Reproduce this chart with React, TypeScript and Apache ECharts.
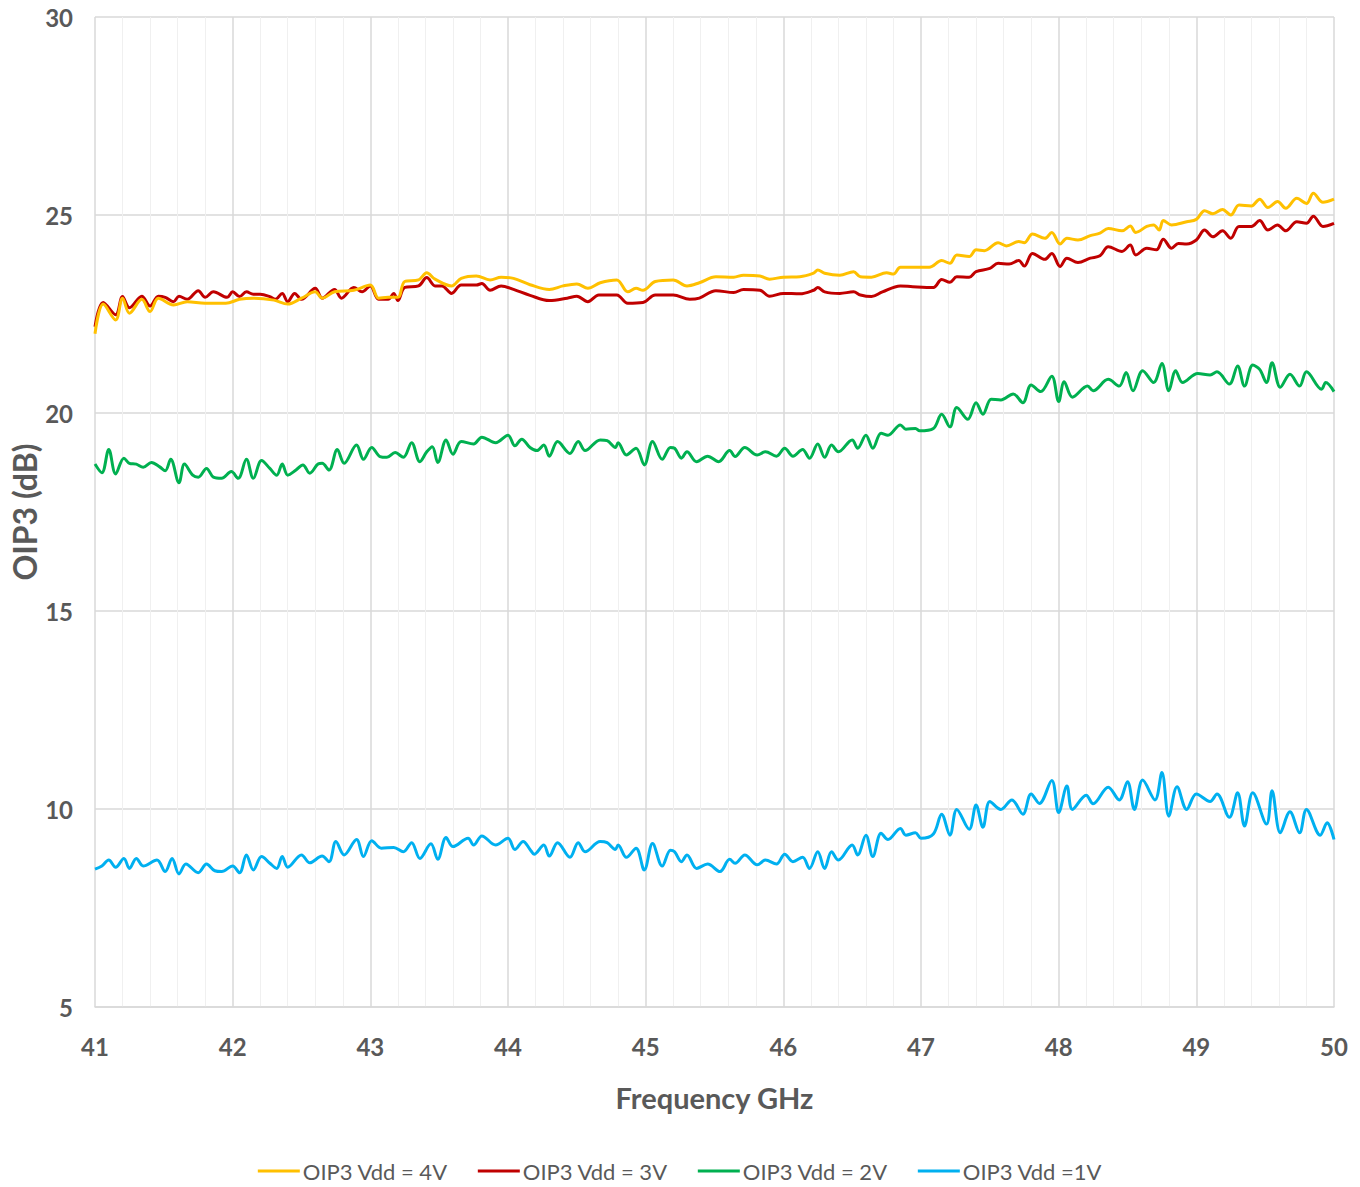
import React, { useEffect, useRef } from "react";
import * as echarts from "echarts";

// [frequency GHz, OIP3 dB]
const vdd4V: [number, number][] = [
  [41.0, 22.0], [41.06, 22.75], [41.15, 22.35], [41.2, 22.9], [41.25, 22.52], [41.34, 22.87], [41.4, 22.56],
  [41.46, 22.9], [41.57, 22.73], [41.67, 22.81], [41.8, 22.77], [41.95, 22.77], [42.05, 22.87], [42.15, 22.9],
  [42.3, 22.85], [42.4, 22.75], [42.5, 22.9], [42.6, 23.06], [42.65, 22.9], [42.74, 23.06], [42.88, 23.1],
  [43.0, 23.23], [43.06, 22.9], [43.13, 22.92], [43.2, 22.92], [43.25, 23.32], [43.35, 23.36], [43.41, 23.54],
  [43.47, 23.38], [43.59, 23.21], [43.66, 23.4], [43.77, 23.46], [43.87, 23.36], [43.95, 23.43], [44.04, 23.4],
  [44.16, 23.24], [44.3, 23.12], [44.4, 23.21], [44.5, 23.26], [44.58, 23.15], [44.67, 23.29], [44.79, 23.36],
  [44.87, 23.06], [44.93, 23.15], [44.98, 23.1], [45.07, 23.32], [45.2, 23.36], [45.3, 23.21], [45.39, 23.29],
  [45.51, 23.44], [45.64, 23.43], [45.71, 23.48], [45.83, 23.46], [45.9, 23.38], [46.0, 23.43], [46.12, 23.44],
  [46.22, 23.53], [46.25, 23.61], [46.3, 23.53], [46.41, 23.48], [46.51, 23.57], [46.56, 23.44], [46.64, 23.43],
  [46.75, 23.54], [46.8, 23.51], [46.85, 23.68], [46.94, 23.68], [47.06, 23.68], [47.15, 23.85], [47.21, 23.78],
  [47.26, 23.99], [47.35, 23.95], [47.4, 24.12], [47.46, 24.1], [47.56, 24.3], [47.62, 24.22], [47.71, 24.33],
  [47.75, 24.3], [47.81, 24.52], [47.9, 24.41], [47.95, 24.56], [48.01, 24.27], [48.06, 24.41], [48.14, 24.37],
  [48.23, 24.48], [48.3, 24.54], [48.36, 24.66], [48.46, 24.6], [48.52, 24.72], [48.56, 24.56], [48.64, 24.71],
  [48.69, 24.75], [48.73, 24.62], [48.76, 24.86], [48.82, 24.75], [48.93, 24.83], [49.0, 24.89], [49.06, 25.11],
  [49.12, 25.03], [49.19, 25.14], [49.25, 25.0], [49.31, 25.25], [49.4, 25.23], [49.46, 25.4], [49.52, 25.19],
  [49.59, 25.34], [49.65, 25.17], [49.73, 25.42], [49.8, 25.29], [49.85, 25.55], [49.92, 25.32], [50.0, 25.4],
];

const vdd3V: [number, number][] = [
  [41.0, 22.18], [41.06, 22.79], [41.15, 22.48], [41.2, 22.94], [41.25, 22.66], [41.34, 22.95], [41.4, 22.7],
  [41.46, 22.95], [41.51, 22.92], [41.57, 22.81], [41.61, 22.95], [41.67, 22.87], [41.75, 23.09], [41.8, 22.92],
  [41.86, 23.06], [41.96, 22.92], [42.0, 23.06], [42.05, 22.94], [42.1, 23.06], [42.15, 23.0], [42.2, 23.0],
  [42.27, 22.94], [42.31, 22.87], [42.36, 23.02], [42.4, 22.81], [42.45, 23.02], [42.5, 22.87], [42.6, 23.15],
  [42.65, 22.9], [42.74, 23.12], [42.79, 22.9], [42.88, 23.17], [42.94, 23.06], [43.0, 23.21], [43.06, 22.87],
  [43.13, 22.87], [43.17, 23.02], [43.2, 22.84], [43.25, 23.17], [43.35, 23.21], [43.41, 23.42], [43.47, 23.21],
  [43.52, 23.21], [43.59, 23.02], [43.66, 23.23], [43.77, 23.23], [43.81, 23.27], [43.87, 23.1], [43.95, 23.21],
  [44.04, 23.12], [44.16, 22.97], [44.3, 22.84], [44.43, 22.9], [44.5, 22.95], [44.58, 22.81], [44.66, 22.98],
  [44.79, 22.98], [44.87, 22.77], [44.98, 22.79], [45.07, 22.98], [45.2, 22.98], [45.32, 22.87], [45.39, 22.9],
  [45.51, 23.09], [45.64, 23.04], [45.71, 23.12], [45.83, 23.1], [45.9, 22.95], [46.0, 23.02], [46.12, 23.01],
  [46.22, 23.1], [46.25, 23.17], [46.3, 23.06], [46.41, 23.02], [46.51, 23.06], [46.56, 22.98], [46.64, 22.94],
  [46.72, 23.06], [46.85, 23.21], [46.94, 23.19], [47.09, 23.17], [47.15, 23.37], [47.21, 23.3], [47.26, 23.44],
  [47.35, 23.43], [47.4, 23.57], [47.5, 23.65], [47.56, 23.78], [47.64, 23.76], [47.71, 23.85], [47.75, 23.71],
  [47.81, 24.03], [47.9, 23.88], [47.95, 24.03], [48.01, 23.7], [48.06, 23.91], [48.14, 23.8], [48.23, 23.91],
  [48.3, 23.97], [48.36, 24.2], [48.46, 24.08], [48.52, 24.24], [48.56, 23.99], [48.64, 24.16], [48.71, 24.12],
  [48.76, 24.39], [48.82, 24.16], [48.87, 24.28], [48.93, 24.27], [49.0, 24.37], [49.06, 24.62], [49.12, 24.45],
  [49.19, 24.6], [49.25, 24.41], [49.31, 24.71], [49.4, 24.71], [49.46, 24.86], [49.52, 24.62], [49.59, 24.75],
  [49.65, 24.6], [49.73, 24.83], [49.8, 24.79], [49.85, 24.97], [49.92, 24.71], [50.0, 24.79],
];

const vdd2V: [number, number][] = [
  [41.0, 18.71], [41.05, 18.49], [41.1, 19.08], [41.15, 18.46], [41.21, 18.86], [41.25, 18.73], [41.3, 18.71],
  [41.35, 18.63], [41.41, 18.75], [41.47, 18.64], [41.51, 18.54], [41.55, 18.83], [41.61, 18.24], [41.65, 18.71],
  [41.71, 18.43], [41.75, 18.38], [41.81, 18.6], [41.86, 18.38], [41.92, 18.35], [41.99, 18.52], [42.04, 18.35],
  [42.1, 18.83], [42.15, 18.35], [42.21, 18.8], [42.27, 18.6], [42.32, 18.43], [42.36, 18.71], [42.4, 18.43],
  [42.46, 18.56], [42.51, 18.69], [42.56, 18.48], [42.62, 18.71], [42.65, 18.73], [42.7, 18.56], [42.76, 19.08],
  [42.81, 18.73], [42.9, 19.19], [42.95, 18.83], [43.01, 19.13], [43.07, 18.9], [43.12, 18.88], [43.18, 19.0],
  [43.24, 18.88], [43.3, 19.25], [43.36, 18.77], [43.41, 19.02], [43.45, 19.15], [43.49, 18.75], [43.55, 19.32],
  [43.6, 18.96], [43.66, 19.28], [43.75, 19.22], [43.81, 19.39], [43.91, 19.25], [44.0, 19.44], [44.05, 19.17],
  [44.1, 19.34], [44.16, 19.13], [44.21, 19.05], [44.26, 19.19], [44.3, 18.91], [44.36, 19.28], [44.45, 18.98],
  [44.51, 19.28], [44.56, 19.05], [44.67, 19.32], [44.72, 19.3], [44.78, 19.13], [44.8, 19.25], [44.86, 18.94],
  [44.93, 19.11], [44.99, 18.69], [45.05, 19.28], [45.12, 18.83], [45.18, 19.13], [45.21, 19.11], [45.26, 18.86],
  [45.3, 19.02], [45.37, 18.77], [45.45, 18.91], [45.53, 18.77], [45.61, 19.05], [45.65, 18.9], [45.72, 19.13],
  [45.81, 18.94], [45.87, 19.02], [45.95, 18.91], [46.01, 19.11], [46.07, 18.91], [46.14, 19.08], [46.19, 18.86],
  [46.25, 19.22], [46.3, 18.88], [46.35, 19.19], [46.4, 19.02], [46.5, 19.32], [46.54, 19.11], [46.6, 19.44],
  [46.65, 19.11], [46.71, 19.49], [46.76, 19.44], [46.85, 19.7], [46.89, 19.59], [46.96, 19.61], [46.99, 19.55],
  [47.09, 19.61], [47.15, 19.97], [47.21, 19.65], [47.26, 20.14], [47.34, 19.84], [47.4, 20.26], [47.45, 19.97],
  [47.51, 20.35], [47.58, 20.33], [47.67, 20.48], [47.74, 20.26], [47.8, 20.71], [47.87, 20.54], [47.95, 20.93],
  [48.0, 20.29], [48.04, 20.79], [48.1, 20.4], [48.21, 20.68], [48.25, 20.56], [48.36, 20.85], [48.44, 20.68],
  [48.49, 21.02], [48.54, 20.56], [48.61, 21.07], [48.69, 20.77], [48.75, 21.25], [48.8, 20.56], [48.85, 21.07],
  [48.9, 20.77], [49.01, 21.0], [49.1, 20.96], [49.15, 21.04], [49.24, 20.73], [49.3, 21.19], [49.35, 20.68],
  [49.41, 21.21], [49.46, 21.1], [49.51, 20.77], [49.55, 21.27], [49.61, 20.65], [49.68, 20.98], [49.75, 20.68],
  [49.8, 21.04], [49.91, 20.6], [49.94, 20.77], [50.0, 20.54],
];

const vdd1V: [number, number][] = [
  [41.0, 8.48], [41.05, 8.56], [41.1, 8.71], [41.15, 8.53], [41.21, 8.75], [41.25, 8.5], [41.3, 8.75],
  [41.35, 8.56], [41.45, 8.71], [41.51, 8.42], [41.56, 8.75], [41.61, 8.36], [41.66, 8.61], [41.75, 8.39],
  [41.81, 8.61], [41.87, 8.44], [41.92, 8.42], [42.0, 8.56], [42.05, 8.39], [42.1, 8.84], [42.15, 8.46],
  [42.21, 8.8], [42.27, 8.63], [42.32, 8.5], [42.36, 8.8], [42.4, 8.53], [42.5, 8.84], [42.56, 8.64],
  [42.65, 8.81], [42.7, 8.67], [42.75, 9.18], [42.81, 8.84], [42.9, 9.23], [42.95, 8.8], [43.01, 9.2],
  [43.08, 9.01], [43.17, 9.03], [43.24, 8.92], [43.3, 9.15], [43.36, 8.75], [43.44, 9.12], [43.49, 8.73],
  [43.55, 9.28], [43.6, 9.05], [43.71, 9.26], [43.75, 9.09], [43.81, 9.32], [43.91, 9.09], [44.0, 9.26],
  [44.05, 8.98], [44.11, 9.18], [44.16, 8.98], [44.19, 8.86], [44.26, 9.09], [44.3, 8.81], [44.36, 9.15],
  [44.45, 8.78], [44.51, 9.15], [44.56, 8.92], [44.67, 9.18], [44.72, 9.15], [44.78, 8.98], [44.8, 9.09],
  [44.86, 8.78], [44.93, 9.01], [44.99, 8.46], [45.05, 9.13], [45.12, 8.56], [45.18, 8.96], [45.21, 8.92],
  [45.26, 8.67], [45.3, 8.84], [45.37, 8.5], [45.45, 8.61], [45.54, 8.42], [45.61, 8.73], [45.65, 8.63],
  [45.72, 8.84], [45.81, 8.59], [45.87, 8.71], [45.95, 8.61], [46.01, 8.86], [46.07, 8.67], [46.14, 8.78],
  [46.19, 8.5], [46.25, 8.92], [46.3, 8.5], [46.35, 8.92], [46.4, 8.71], [46.5, 9.09], [46.54, 8.84],
  [46.6, 9.34], [46.65, 8.8], [46.71, 9.39], [46.76, 9.23], [46.85, 9.51], [46.89, 9.34], [46.96, 9.4],
  [47.0, 9.26], [47.09, 9.37], [47.15, 9.87], [47.21, 9.34], [47.26, 9.99], [47.35, 9.49], [47.4, 10.1],
  [47.45, 9.54], [47.5, 10.19], [47.58, 9.99], [47.66, 10.23], [47.74, 9.87], [47.8, 10.38], [47.86, 10.14],
  [47.95, 10.72], [48.0, 9.91], [48.06, 10.58], [48.1, 9.99], [48.2, 10.35], [48.25, 10.13], [48.36, 10.55],
  [48.44, 10.23], [48.5, 10.69], [48.55, 9.99], [48.61, 10.73], [48.7, 10.23], [48.75, 10.92], [48.8, 9.82],
  [48.86, 10.56], [48.93, 9.99], [49.0, 10.38], [49.1, 10.19], [49.15, 10.38], [49.24, 9.79], [49.3, 10.41],
  [49.35, 9.57], [49.41, 10.41], [49.51, 9.62], [49.55, 10.46], [49.61, 9.4], [49.68, 9.93], [49.75, 9.4],
  [49.8, 9.99], [49.9, 9.34], [49.95, 9.65], [50.0, 9.23],
];

const seriesNames = ["OIP3 Vdd = 4V", "OIP3 Vdd = 3V", "OIP3 Vdd = 2V", "OIP3 Vdd =1V"];
const seriesColors = ["#FFC000", "#C00000", "#00B050", "#00B0F0"];
const seriesData = [vdd4V, vdd3V, vdd2V, vdd1V];

const FONT = "Lato, 'Noto Sans', sans-serif";

export default function App() {
  const ref = useRef<HTMLDivElement>(null);
  useEffect(() => {
    if (!ref.current) return;
    const chart = echarts.init(ref.current, undefined, { renderer: "svg" });
    chart.setOption({
      animation: false,
      backgroundColor: "#ffffff",
      textStyle: { fontFamily: FONT },
      grid: { left: 95, right: 26, top: 17, bottom: 180, containLabel: false, outerBoundsMode: "none" },
      legend: {
        top: 1158,
        left: "center",
        icon: "rect",
        itemWidth: 42,
        itemHeight: 3,
        itemGap: 30,
        padding: 0,
        textStyle: { fontFamily: FONT, fontSize: 22, lineHeight: 26, color: "#595959", padding: [0, 0, 0, -2] },
        data: seriesNames,
      },
      xAxis: {
        type: "value",
        min: 41,
        max: 50,
        interval: 1,
        name: "Frequency GHz",
        nameLocation: "middle",
        nameGap: 76,
        nameMoveOverlap: false,
        nameTextStyle: { fontFamily: FONT, fontSize: 29, fontWeight: "bold", color: "#595959" },
        axisLine: { show: true, lineStyle: { color: "#d9d9d9", width: 1.5 } },
        axisTick: { show: false },
        axisLabel: { fontFamily: FONT, fontSize: 24, color: "#595959", fontWeight: "bold", margin: 27 },
        splitLine: { show: true, lineStyle: { color: "#d9d9d9", width: 1.5 } },
        minorTick: { show: false, splitNumber: 5 },
        minorSplitLine: { show: true, lineStyle: { color: "#f0f0f0", width: 1 } },
      },
      yAxis: {
        type: "value",
        min: 5,
        max: 30,
        interval: 5,
        name: "OIP3 (dB)",
        nameLocation: "middle",
        nameGap: 54,
        nameMoveOverlap: false,
        nameTextStyle: { fontFamily: FONT, fontSize: 32, lineHeight: 34, fontWeight: "bold", color: "#595959" },
        axisLine: { show: false },
        axisTick: { show: false },
        axisLabel: { fontFamily: FONT, fontSize: 24, color: "#595959", fontWeight: "bold", margin: 22 },
        splitLine: { show: true, lineStyle: { color: "#d9d9d9", width: 1.5 } },
      },
      series: seriesData.map((d, i) => ({
        name: seriesNames[i],
        type: "line",
        data: d,
        smooth: 0.35,
        showSymbol: false,
        symbol: "none",
        lineStyle: { color: seriesColors[i], width: 3 },
        itemStyle: { color: seriesColors[i] },
        z: 10 - i,
      })),
    });
    return () => chart.dispose();
  }, []);
  return (
    <div
      ref={ref}
      style={{ position: "absolute", left: 0, top: 0, width: 1360, height: 1187 }}
    />
  );
}
